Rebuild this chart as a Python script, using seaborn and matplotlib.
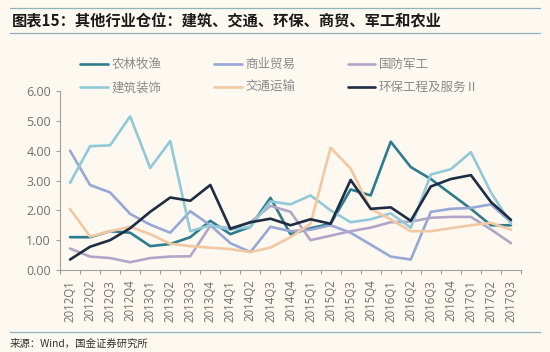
import numpy as np
import pandas as pd
import matplotlib.pyplot as plt
import seaborn as sns
from matplotlib.ticker import FormatStrFormatter

# 季度
quarters = ['2012Q1', '2012Q2', '2012Q3', '2012Q4', '2013Q1', '2013Q2', '2013Q3', '2013Q4',
            '2014Q1', '2014Q2', '2014Q3', '2014Q4', '2015Q1', '2015Q2', '2015Q3', '2015Q4',
            '2016Q1', '2016Q2', '2016Q3', '2016Q4', '2017Q1', '2017Q2', '2017Q3']

# 各行业仓位(%)
nonglin = [1.10, 1.10, 1.30, 1.25, 0.80, 0.87, 1.10, 1.65, 1.20, 1.45, 2.42, 1.20,
           1.40, 1.55, 2.70, 2.50, 4.30, 3.45, 3.05, 2.55, 2.05, 1.50, 1.50]
shangmao = [4.00, 2.85, 2.60, 1.88, 1.52, 1.25, 1.97, 1.50, 0.90, 0.60, 1.45, 1.30,
            1.35, 1.50, 1.25, 0.85, 0.45, 0.35, 1.95, 2.05, 2.08, 2.20, 1.60]
junggong = [0.72, 0.45, 0.40, 0.26, 0.40, 0.45, 0.46, 1.48, 1.40, 1.60, 2.15, 1.95,
            1.00, 1.15, 1.30, 1.42, 1.60, 1.62, 1.75, 1.78, 1.78, 1.36, 0.90]
jianzhu = [2.92, 4.15, 4.18, 5.15, 3.42, 4.32, 1.30, 1.50, 1.35, 1.45, 2.30, 2.20,
           2.50, 2.00, 1.60, 1.70, 1.90, 1.42, 3.20, 3.38, 3.95, 2.60, 1.55]
jiaotong = [2.05, 1.12, 1.30, 1.45, 1.20, 0.88, 0.80, 0.75, 0.70, 0.60, 0.75, 1.10,
            1.55, 4.10, 3.40, 2.05, 1.70, 1.30, 1.30, 1.40, 1.50, 1.58, 1.35]
huanbao = [0.35, 0.78, 1.00, 1.40, 1.95, 2.43, 2.32, 2.85, 1.38, 1.60, 1.72, 1.50,
           1.70, 1.55, 3.02, 2.05, 2.10, 1.65, 2.80, 3.05, 3.18, 2.28, 1.68]

names = ['农林牧渔', '商业贸易', '国防军工', '建筑装饰', '交通运输', '环保工程及服务Ⅱ']
values = [nonglin, shangmao, junggong, jianzhu, jiaotong, huanbao]
colors = ['#2d7c8c', '#97a8d6', '#b2a6c8', '#92c9d9', '#f2c8a2', '#1e2c44']

df = pd.concat([pd.DataFrame({'季度': quarters, '仓位': v, '行业': n})
                for n, v in zip(names, values)], ignore_index=True)

sns.set_style('ticks')
plt.rcParams['font.family'] = ['Noto Sans CJK SC', 'DejaVu Sans']

bg = '#fdf9f0'
fig = plt.figure(figsize=(5.5, 3.52), dpi=100, facecolor=bg)
ax = fig.add_axes([60 / 550, 1 - 270 / 352, 461 / 550, 179 / 352])
ax.set_facecolor(bg)

sns.lineplot(data=df, x='季度', y='仓位', hue='行业', hue_order=names,
             palette=dict(zip(names, colors)), linewidth=1.9, sort=False, ax=ax)

handles, labels = ax.get_legend_handles_labels()
ax.get_legend().remove()
order = [0, 3, 1, 4, 2, 5]
fig.legend([handles[i] for i in order], [labels[i] for i in order],
           ncol=3, frameon=False, loc='upper left', bbox_to_anchor=(74 / 550, 1 - 52 / 352),
           fontsize=9, handlelength=2.2, handletextpad=0.3, columnspacing=4.2,
           labelspacing=0.8, borderpad=0, labelcolor='#8a8a8a')

ax.set_xlim(-0.5, len(quarters) - 0.5)
ax.set_ylim(0, 6)
ax.set_xlabel('')
ax.set_ylabel('')
ax.set_xticks(range(len(quarters)))
ax.set_xticklabels(quarters, rotation=90, fontsize=8.3, color='#707070', family='Open Sans')
ax.set_xticks(np.arange(-0.5, len(quarters), 1), minor=True)
ax.tick_params(axis='x', which='major', length=0, pad=7)
ax.tick_params(axis='x', which='minor', length=3, color='#a0a0a0', width=0.8)
ax.set_yticks(range(0, 7))
ax.yaxis.set_major_formatter(FormatStrFormatter('%.2f'))
ax.tick_params(axis='y', length=3, color='#a0a0a0', width=0.8, labelsize=9, labelcolor='#707070')
for lab in ax.get_yticklabels():
    lab.set_family('Open Sans')
sns.despine(ax=ax)
for s in ['left', 'bottom']:
    ax.spines[s].set_color('#a0a0a0')
    ax.spines[s].set_linewidth(0.8)

# 标题、分隔线、来源
rule = '#8fb3bb'
fig.add_artist(plt.Line2D([0.018, 0.982], [1 - 8 / 352] * 2, color=rule, lw=0.9))
fig.add_artist(plt.Line2D([0.018, 0.982], [1 - 33 / 352] * 2, color=rule, lw=0.9))
fig.add_artist(plt.Line2D([0.018, 0.982], [1 - 332 / 352] * 2, color=rule, lw=0.9))
fig.text(12 / 550, 1 - 21 / 352, '图表15：其他行业仓位：建筑、交通、环保、商贸、军工和农业',
         fontsize=11, fontweight='bold', color='#1a1a1a', va='center', ha='left')
fig.text(10 / 550, 1 - 344 / 352, '来源：Wind，国金证券研究所',
         fontsize=7.5, color='#333333', va='center', ha='left')

fig.savefig('out.png', dpi=100, facecolor=bg)
